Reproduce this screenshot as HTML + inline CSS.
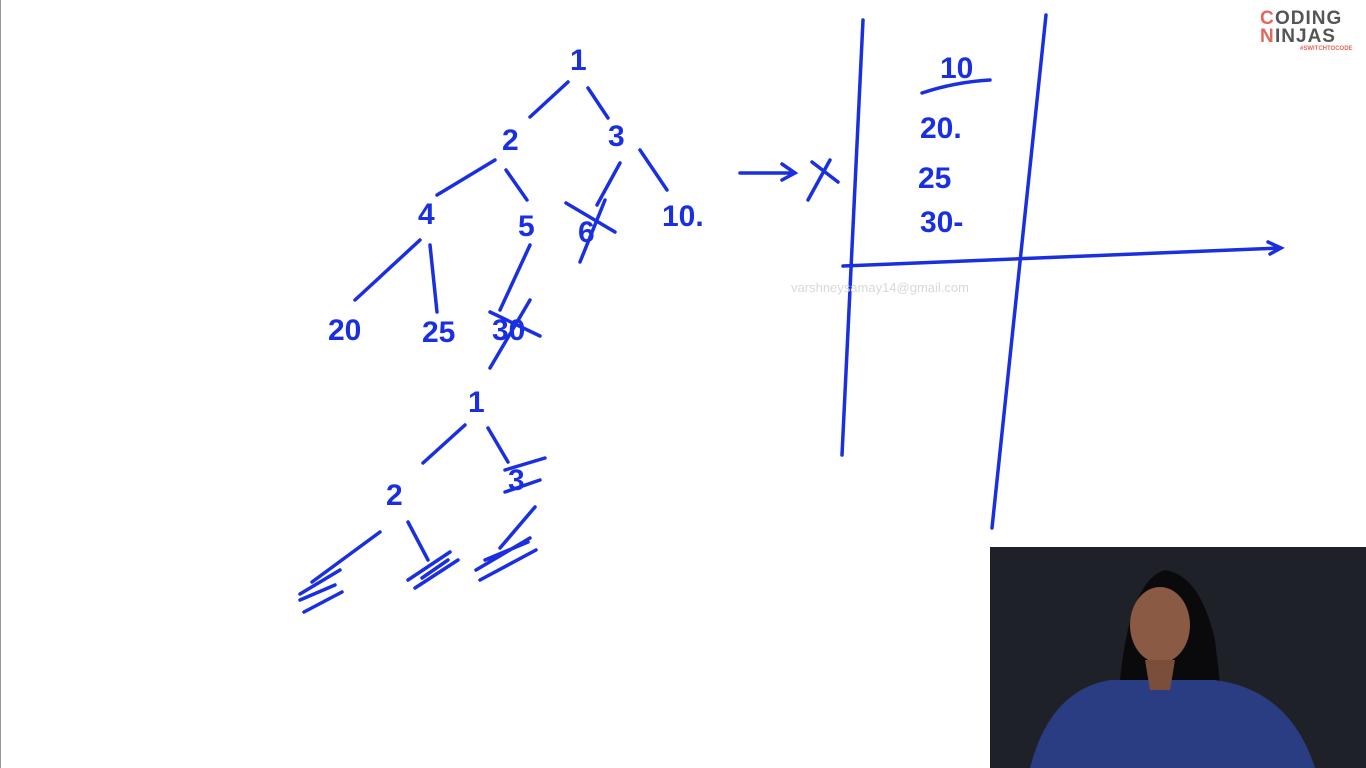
<!DOCTYPE html>
<html><head><meta charset="utf-8"><style>
html,body{margin:0;padding:0;width:1366px;height:768px;overflow:hidden;background:#fff}
svg{display:block}
.n{font-family:"Liberation Sans",sans-serif;fill:#1a30e0;font-size:30px;font-weight:bold}
</style></head><body>
<svg width="1366" height="768" viewBox="0 0 1366 768">
<rect x="0" y="0" width="1366" height="768" fill="#fff"/>
<line x1="0.5" y1="0" x2="0.5" y2="768" stroke="#999"/>
<g stroke="#1a30e0" stroke-width="3.5" fill="none" stroke-linecap="round">
<path d="M530 117 L568 82 M588 88 L608 118"/>
<path d="M495 160 L437 195 M506 170 L527 200 M620 163 L597 205 M640 150 L667 190"/>
<path d="M566 203 L615 232 M580 262 L605 200"/>
<path d="M420 240 L355 300 M430 245 L437 312 M530 245 L500 310"/>
<path d="M490 368 L530 300 M490 312 L540 336"/>
<path d="M423 463 L465 425 M488 428 L508 462"/>
<path d="M505 470 L545 458 M505 492 L540 480"/>
<path d="M380 532 L312 582 M408 522 L428 560 M535 507 L500 548"/>
<path d="M300 594 L340 570 M304 612 L342 592 M300 600 L335 585"/>
<path d="M408 580 L450 552 M415 588 L458 560 M422 578 L448 560"/>
<path d="M476 570 L530 538 M480 580 L536 550 M485 560 L528 542"/>
<path d="M863 20 L842 455 M1046 15 L992 528"/>
<path d="M843 266 L1280 248 M1268 242 L1281 248 L1270 254"/>
<path d="M740 173 L795 173 M782 164 L795 173 L782 180"/>
<path d="M812 162 L838 182 M808 200 L830 160"/>
<path d="M922 93 Q955 82 990 80"/>
</g>
<g>
<text class="n" x="570" y="70">1</text>
<text class="n" x="502" y="150">2</text>
<text class="n" x="608" y="146">3</text>
<text class="n" x="418" y="224">4</text>
<text class="n" x="518" y="236">5</text>
<text class="n" x="578" y="242">6</text>
<text class="n" x="662" y="226">10.</text>
<text class="n" x="328" y="340">20</text>
<text class="n" x="422" y="342">25</text>
<text class="n" x="492" y="340">30</text>
<text class="n" x="468" y="412">1</text>
<text class="n" x="386" y="505">2</text>
<text class="n" x="508" y="490">3</text>
<text class="n" x="940" y="78">10</text>
<text class="n" x="920" y="138">20.</text>
<text class="n" x="918" y="188">25</text>
<text class="n" x="920" y="232">30-</text>
</g>
<text x="880" y="292" text-anchor="middle" font-family="Liberation Sans,sans-serif" font-size="13" fill="#d8d8d8">varshneysamay14@gmail.com</text>
<g font-family="Liberation Sans,sans-serif" font-weight="bold">
<text x="1260" y="24" font-size="19" fill="#e0685c" letter-spacing="1">C</text>
<text x="1275" y="24" font-size="19" fill="#555" letter-spacing="1">ODING</text>
<text x="1260" y="42" font-size="19" fill="#e0685c">N</text>
<text x="1275" y="42" font-size="19" fill="#555" letter-spacing="1">INJAS</text>
<text x="1300" y="50" font-size="6" fill="#e0685c">#SWITCHTOCODE</text>
</g>
<g>
<rect x="990" y="547" width="376" height="221" fill="#1e2228"/>
<path d="M1110 768 L1120 680 Q1130 580 1165 570 Q1200 575 1215 640 L1230 768 Z" fill="#0a0a0c"/>
<ellipse cx="1160" cy="625" rx="30" ry="38" fill="#8a5a44"/>
<path d="M1030 768 Q1050 690 1110 680 L1215 680 Q1290 690 1315 768 Z" fill="#2b3d82"/>
<path d="M1145 660 L1175 660 L1170 690 L1150 690 Z" fill="#7a4e3a"/>
</g>
</svg>
</body></html>
